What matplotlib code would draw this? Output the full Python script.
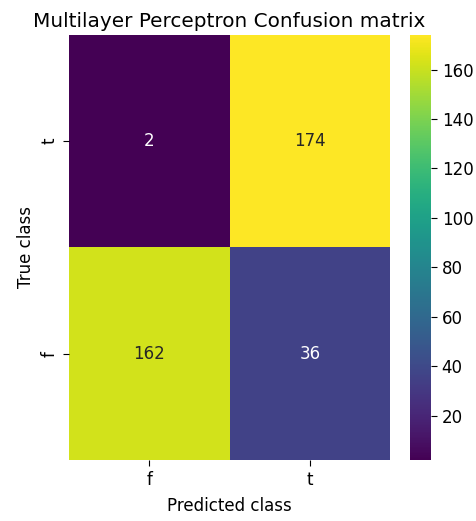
import numpy as np
import matplotlib
matplotlib.use("Agg")
import matplotlib.pyplot as plt
import seaborn as sns

# confusion matrix, rows = true class, cols = predicted class
classes = ['f', 't']
cm_f = [162, 36]
cm_t = [2, 174]
cm = np.array([cm_f, cm_t])

fig = plt.figure(figsize=(4.77, 5.21), dpi=100)
ax = fig.add_axes([0.1447, 0.117, 0.673, 0.816])
cax = fig.add_axes([0.8595, 0.117, 0.044, 0.816])

sns.heatmap(cm, annot=True, fmt='d', cmap='viridis', ax=ax, cbar_ax=cax,
            xticklabels=classes, yticklabels=classes, annot_kws={'size': 12})
ax.invert_yaxis()

ax.set_title("Multilayer Perceptron Confusion matrix", fontsize=14.4)
ax.set_xlabel("Predicted class", fontsize=12, labelpad=6)
ax.set_ylabel("True class", fontsize=12)
ax.tick_params(labelsize=12, length=4.2)
cax.tick_params(labelsize=12, length=4.2)

plt.savefig("out.png", dpi=100)
